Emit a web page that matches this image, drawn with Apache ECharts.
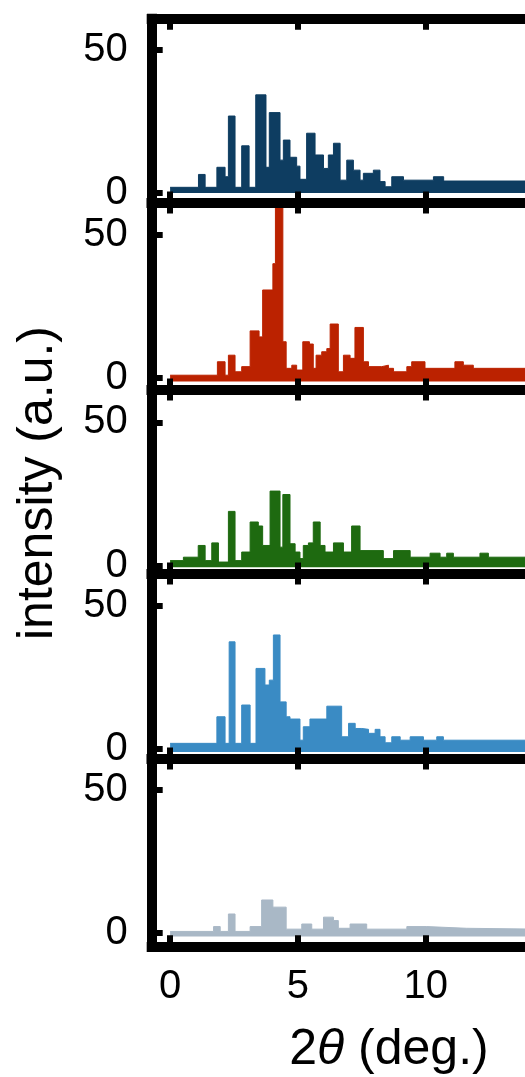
<!DOCTYPE html>
<html>
<head>
<meta charset="utf-8">
<script src="https://cdn.jsdelivr.net/npm/echarts@6/dist/echarts.min.js"></script>
<style>
  html, body { margin: 0; padding: 0; background: #ffffff; }
  #chart { width: 525px; height: 1077px; }
</style>
</head>
<body>
<div id="chart"></div>
<script>
// Powder diffraction patterns, intensity (a.u.) against 2θ (deg.)
// Each pattern is a list of [2θ, intensity] steps: the intensity holds until the next 2θ.
const xTickValues = [0, 5, 10, 15, 20];
const yTickValues = [0, 50];
const colors = ['#0e3d61', '#bb2200', '#1e6a10', '#3a8bc4', '#a9b8c6'];

const pattern1 = [
  [0, 2.0], [1.11, 6.5], [1.37, 2.0], [1.83, 9.0], [2.15, 5.7], [2.28, 26.9], [2.54, 2.0],
  [2.8, 16.5], [3.09, 2.0], [3.35, 34.3], [3.75, 9.0], [3.88, 28.1], [4.3, 11.5], [4.43, 18.5],
  [4.69, 12.5], [4.95, 9.4], [5.08, 4.8], [5.34, 20.9], [5.67, 13.3], [6.0, 8.6], [6.19, 13.3],
  [6.39, 17.4], [6.65, 4.5], [6.91, 11.5], [7.17, 8.0], [7.43, 4.5], [7.56, 6.9], [7.95, 8.0],
  [8.21, 4.0], [8.41, 2.2], [8.67, 5.7], [9.13, 4.5], [10.3, 5.7], [10.7, 4.2], [14.5, 4.2]
];

const pattern2 = [
  [0, 1.0], [1.85, 5.7], [2.15, 1.0], [2.28, 8.0], [2.54, 2.2], [2.8, 4.0], [3.13, 16.5],
  [3.48, 14.4], [3.62, 30.8], [4.02, 40.0], [4.12, 70.0], [4.41, 12.7], [4.54, 3.4], [4.76, 4.5],
  [4.95, 2.8], [5.19, 12.7], [5.45, 11.9], [5.6, 3.4], [5.71, 8.0], [5.93, 9.2], [6.13, 10.3],
  [6.26, 18.9], [6.58, 2.2], [6.78, 8.0], [7.04, 6.9], [7.23, 17.7], [7.56, 5.7], [7.76, 4.0],
  [8.28, 4.5], [8.54, 3.4], [8.74, 2.2], [9.26, 4.0], [9.45, 5.7], [9.97, 3.4], [11.14, 5.7],
  [11.47, 4.5], [11.86, 3.4], [14.5, 3.4]
];

const pattern3 = [
  [0, 1.7], [0.52, 2.9], [1.1, 7.0], [1.37, 1.7], [1.63, 7.9], [1.89, 1.2], [2.28, 18.9],
  [2.54, 1.7], [2.8, 4.7], [3.13, 15.2], [3.45, 13.8], [3.62, 7.0], [3.91, 26.0], [4.3, 6.4],
  [4.41, 24.8], [4.69, 7.6], [4.89, 4.7], [5.08, 2.4], [5.21, 7.0], [5.41, 7.9], [5.6, 15.2],
  [5.87, 7.0], [6.06, 4.7], [6.39, 7.9], [6.78, 4.7], [7.1, 13.8], [7.43, 5.2], [8.34, 2.4],
  [8.74, 5.2], [9.39, 2.9], [10.17, 4.3], [10.56, 2.9], [10.82, 4.3], [11.08, 2.9],
  [12.12, 4.3], [12.45, 2.9], [14.5, 2.9]
];

const pattern4 = [
  [0, 2.0], [1.83, 11.3], [2.15, 2.0], [2.31, 37.5], [2.54, 2.0], [2.8, 15.4], [3.13, 2.0],
  [3.36, 28.2], [3.71, 22.4], [3.88, 24.1], [4.04, 39.9], [4.3, 16.5], [4.54, 11.3],
  [4.69, 10.5], [5.08, 3.1], [5.21, 7.8], [5.47, 10.5], [6.13, 15.0], [6.71, 4.3], [6.98, 9.0],
  [7.24, 7.2], [7.5, 6.9], [7.76, 5.5], [8.02, 6.9], [8.21, 4.3], [8.41, 2.2], [8.67, 4.3],
  [9.0, 3.1], [9.39, 4.3], [9.91, 3.1], [10.43, 4.3], [10.69, 3.1], [14.5, 3.1]
];

const pattern5 = [
  [0, 0.5], [1.7, 2.2], [1.96, 0.5], [2.28, 6.6], [2.54, 0.5], [3.13, 2.2], [3.58, 11.5],
  [4.02, 9.0], [4.54, 1.3], [5.15, 3.1], [5.54, 1.3], [6.0, 5.5], [6.39, 4.3], [6.58, 1.6],
  [7.04, 3.1], [7.69, 1.3], [9.26, 2.2], [10.04, 1.6], [11.6, 1.3], [14.5, 1.3]
];

const patterns = [pattern1, pattern2, pattern3, pattern4, pattern5];

// panel layout: border centre lines, y extents and the level the fill drops to
const panelTops = [18.7, 202.5, 389.5, 573.5, 758.5];
const panelBottoms = [202.5, 389.5, 573.5, 758.5, 946.3];
const panelYMin = [-3.3, -4.0, -2.8, -3.3, -4.7];
const panelYMax = [60.9, 61.4, 61.5, 61.4, 61.0];
const fillFloor = [0, -1.2, -0.6, -1.0, -1.3];

const FONT = 'Liberation Sans, Arial, Helvetica, sans-serif';
const gridLeft = 151.7;
const gridWidth = 529.7;
const xMin = -0.72;
const xMax = 20;

const grids = [];
const xAxes = [];
const yAxes = [];
const series = [];

const frameLine = { show: true, onZero: false, lineStyle: { color: '#000', width: 10, cap: 'square' } };
const innerTick = (vals) => ({
  show: true, inside: true, length: 11, customValues: vals,
  lineStyle: { color: '#000', width: 6 }
});

for (let i = 0; i < 5; i++) {
  grids.push({
    left: gridLeft, width: gridWidth,
    top: panelTops[i], height: panelBottoms[i] - panelTops[i],
    containLabel: false,
    outerBoundsMode: 'none'
  });
  ['bottom', 'top'].forEach(function (pos) {
    xAxes.push({
      type: 'value', gridIndex: i, position: pos, min: xMin, max: xMax, z: 6,
      axisLine: frameLine,
      axisTick: innerTick(xTickValues),
      axisLabel: {
        show: pos === 'bottom' && i === 4, customValues: xTickValues,
        fontSize: 40, fontFamily: FONT, color: '#000', margin: 21
      },
      splitLine: { show: false }
    });
  });
  yAxes.push({
    type: 'value', gridIndex: i, min: panelYMin[i], max: panelYMax[i], z: 6,
    axisLine: frameLine,
    axisTick: innerTick(yTickValues),
    axisLabel: {
      show: true, customValues: yTickValues,
      fontSize: 40, fontFamily: FONT, color: '#000', margin: 24
    },
    splitLine: { show: false }
  });
  series.push({
    type: 'line', xAxisIndex: 2 * i, yAxisIndex: i,
    data: patterns[i], step: 'end', showSymbol: false, clip: true, z: 2,
    lineStyle: { color: colors[i], width: 1 },
    areaStyle: { color: colors[i], opacity: 1, origin: fillFloor[i] }
  });
}

const chart = echarts.init(document.getElementById('chart'), null, { renderer: 'canvas' });
chart.setOption({
  animation: false,
  backgroundColor: '#ffffff',
  grid: grids,
  xAxis: xAxes,
  yAxis: yAxes,
  series: series,
  graphic: [
    {
      type: 'text', x: 389, y: 1050,
      style: {
        text: '{n|2}{i|θ}{n| (deg.)}',
        align: 'center', verticalAlign: 'middle',
        rich: {
          n: { fontSize: 50, fontFamily: FONT, fill: '#000' },
          i: { fontSize: 50, fontFamily: FONT, fontStyle: 'italic', fill: '#000' }
        }
      }
    },
    {
      type: 'text', x: 38, y: 483, rotation: Math.PI / 2,
      style: {
        text: 'intensity (a.u.)', fontSize: 50, fontFamily: FONT, fill: '#000',
        align: 'center', verticalAlign: 'middle'
      }
    }
  ]
});
</script>
</body>
</html>
